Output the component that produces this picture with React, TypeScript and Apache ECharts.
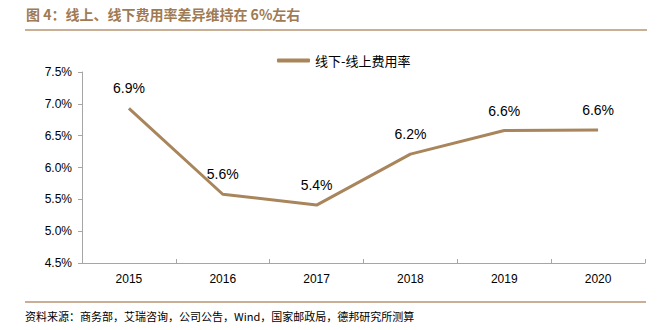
import React, { useEffect, useRef } from "react";
import * as echarts from "echarts";

const categories = ["2015", "2016", "2017", "2018", "2019", "2020"];
const seriesName = "线下-线上费用率";
const values = [6.93, 5.58, 5.41, 6.21, 6.58, 6.59];
const titleText = "图 4：线上、线下费用率差异维持在 6%左右";
const sourceText = "资料来源：商务部，艾瑞咨询，公司公告，Wind，国家邮政局，德邦研究所测算";

export default function App() {
  const ref = useRef<HTMLDivElement>(null);
  useEffect(() => {
    if (!ref.current) return;
    const chart = echarts.init(ref.current, undefined, { renderer: "svg" });
    const brown = "#A9855C";
    chart.setOption({
      animation: false,
      backgroundColor: "#ffffff",
      textStyle: { fontFamily: "Arial, 'Liberation Sans', 'Noto Sans CJK SC'" },
      grid: { left: 82, right: 12, top: 72, bottom: 67 },
      legend: {
        top: 49,
        left: 272,
        icon: "roundRect",
        itemWidth: 33,
        itemHeight: 4,
        itemGap: 6,
        textStyle: { fontSize: 13, color: "#000", fontFamily: "'Noto Sans CJK SC'" },
        data: [seriesName],
      },
      xAxis: {
        type: "category",
        data: categories,
        boundaryGap: true,
        axisLine: { lineStyle: { color: "#A6A6A6", width: 1 } },
        axisTick: { show: true, inside: true, length: 4, lineStyle: { color: "#A6A6A6" } },
        axisLabel: { fontSize: 12, color: "#000", margin: 10 },
      },
      yAxis: {
        type: "value",
        min: 4.5,
        max: 7.5,
        interval: 0.5,
        splitLine: { show: false },
        axisLine: { show: true, lineStyle: { color: "#A6A6A6", width: 1 } },
        axisTick: { show: true, length: 4, lineStyle: { color: "#A6A6A6" } },
        axisLabel: {
          fontSize: 12,
          color: "#000",
          margin: 10,
          formatter: (v: number) => v.toFixed(1) + "%",
        },
      },
      series: [
        {
          name: seriesName,
          type: "line",
          data: values,
          symbol: "circle",
          symbolSize: 0.1,
          showSymbol: true,
          lineStyle: { color: brown, width: 3 },
          itemStyle: { color: brown },
          label: {
            show: true,
            position: "top",
            distance: 13,
            fontSize: 14,
            color: "#000",
            formatter: (p: any) => Number(p.value).toFixed(1) + "%",
          },
        },
      ],
      graphic: [
        {
          type: "text",
          left: 26,
          top: 7,
          style: {
            text: titleText,
            fontSize: 14,
            fontWeight: "bold",
            fill: "#A07A52",
            fontFamily: "'Noto Sans CJK SC'",
          },
        },
        {
          type: "line",
          shape: { x1: 25, y1: 30, x2: 647, y2: 30 },
          style: { stroke: "#B89474", lineWidth: 1.5 },
        },
        {
          type: "line",
          shape: { x1: 25, y1: 302, x2: 646, y2: 302 },
          style: { stroke: "#B89474", lineWidth: 1.5 },
        },
        {
          type: "text",
          left: 25,
          top: 310,
          style: {
            text: sourceText,
            fontSize: 11,
            fill: "#000",
            fontFamily: "'Noto Sans CJK SC'",
          },
        },
      ],
    });
    return () => chart.dispose();
  }, []);
  return (
    <div
      ref={ref}
      style={{ position: "fixed", left: 0, top: 0, width: 657, height: 330 }}
    />
  );
}
